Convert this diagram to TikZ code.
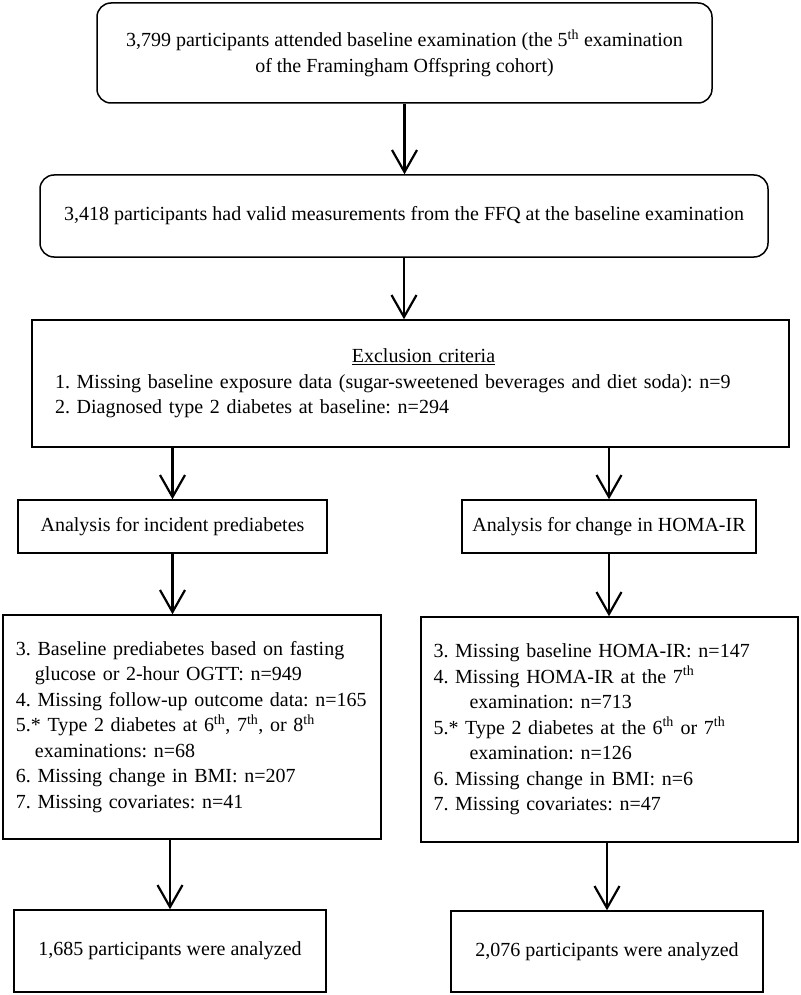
\documentclass[tikz,border=0pt]{standalone}
\usepackage{fontspec}
\setmainfont{Liberation Serif}
\usepackage{tikz}
\usetikzlibrary{arrows.meta,positioning,calc}
\frenchspacing
\tikzset{
  box/.style={draw, line width=1.5pt, align=center, inner sep=0pt,
    font=\fontsize{20}{25.5}\selectfont},
  rbox/.style={box, rounded corners=14pt},
  list/.style={box, align=left},
  arrow/.style={-{Straight Barb[length=22pt,width=25pt]}, line width=2.2pt}
}

\begin{document}
\begin{tikzpicture}[x=1pt,y=-1pt]
    \useasboundingbox (0,0) rectangle (800,995);
    % Cohort
    \node[rbox, minimum width=615, minimum height=100] (base) at (404.5,53)
      {3,799 participants attended baseline examination (the 5\textsuperscript{th} examination\\of the Framingham Offspring cohort)};
    \node[rbox, minimum width=728, minimum height=82] (ffq) at (404,216)
      {3,418 participants had valid measurements from the FFQ at the baseline examination};
    % Exclusions
    \node[list, minimum width=757, minimum height=127, text width=711] (excl) at (410.5,383.5)
      {\makebox[\hsize]{\hspace{26pt}\underline{Exclusion criteria}}\\
       1. Missing baseline exposure data (sugar-sweetened beverages and diet soda): n=9\\
       2. Diagnosed type 2 diabetes at baseline: n=294};
    % Two analyses
    \node[box, minimum width=309, minimum height=53] (predia) at (172.5,526.5)
      {Analysis for incident prediabetes};
    \node[box, minimum width=294, minimum height=53] (homa) at (609,526.5)
      {Analysis for change in HOMA-IR};
    \node[list, minimum width=378, minimum height=224, text width=352] (lmiss) at (192,727)
      {3. Baseline prediabetes based on fasting\\
       \hspace*{19pt}glucose or 2-hour OGTT: n=949\\
       4. Missing follow-up outcome data: n=165\\
       5.* Type 2 diabetes at 6\textsuperscript{th}, 7\textsuperscript{th}, or 8\textsuperscript{th}\\
       \hspace*{19pt}examinations: n=68\\
       6. Missing change in BMI: n=207\\
       7. Missing covariates: n=41};
    \node[list, minimum width=377, minimum height=225, text width=352] (rmiss) at (609.5,729.5)
      {3. Missing baseline HOMA-IR: n=147\\
       4. Missing HOMA-IR at the 7\textsuperscript{th}\\
       \hspace*{36pt}examination: n=713\\
       5.* Type 2 diabetes at the 6\textsuperscript{th} or 7\textsuperscript{th}\\
       \hspace*{36pt}examination: n=126\\
       6. Missing change in BMI: n=6\\
       7. Missing covariates: n=47};
    \node[box, minimum width=312, minimum height=82] (lfinal) at (170,951)
      {1,685 participants were analyzed};
    \node[box, minimum width=312, minimum height=81] (rfinal) at (607,951.5)
      {2,076 participants were analyzed};
    % Arrows
    \draw[arrow] (base.south) -- (base.south |- ffq.north);
    \draw[arrow] (ffq.south) -- (ffq.south |- excl.north);
    \draw[arrow] (predia.north |- excl.south) -- (predia.north);
    \draw[arrow] (homa.north |- excl.south) -- (homa.north);
    \draw[arrow] (predia.south) -- (predia.south |- lmiss.north);
    \draw[arrow] (homa.south) -- (homa.south |- rmiss.north);
    \draw[arrow] (lfinal.north |- lmiss.south) -- (lfinal.north);
    \draw[arrow] (rfinal.north |- rmiss.south) -- (rfinal.north);
\end{tikzpicture}
\end{document}
